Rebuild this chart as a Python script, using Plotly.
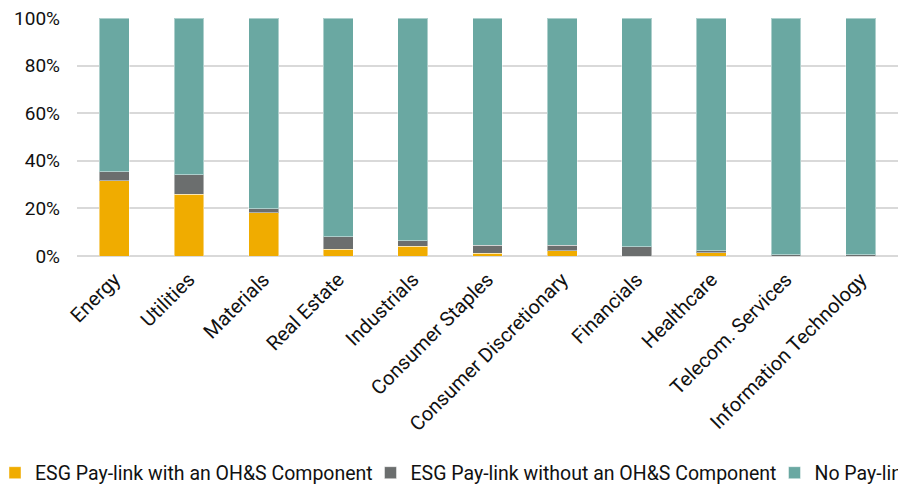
import plotly.graph_objects as go

sectors = [
    "Energy", "Utilities", "Materials", "Real Estate", "Industrials",
    "Consumer Staples", "Consumer Discretionary", "Financials",
    "Healthcare", "Telecom. Services", "Information Technology",
]
with_ohs = [31.6, 25.9, 18.1, 2.8, 4.0, 1.1, 2.3, 0.0, 1.3, 0.0, 0.0]
without_ohs = [3.8, 8.3, 1.7, 5.2, 2.5, 3.5, 2.3, 3.8, 1.0, 0.6, 0.6]
no_paylink = [64.6, 65.8, 80.2, 92.0, 93.5, 95.4, 95.4, 96.2, 97.7, 99.4, 99.4]

series = [
    ("ESG Pay-link with an OH&S Component", with_ohs, "#F0AC00", "legend"),
    ("ESG Pay-link without an OH&S Component", without_ohs, "#6B6E6E", "legend2"),
    ("No Pay-link", no_paylink, "#6AA8A2", "legend3"),
]

fig = go.Figure()
for name, vals, color, leg in series:
    fig.add_trace(go.Bar(
        x=sectors, y=vals, name=name, legend=leg,
        marker=dict(color=color, line=dict(color="rgba(255,255,255,0.45)", width=1)),
    ))

font = "Roboto, Arial, sans-serif"
W, H = 898, 485


def legend_at(left_px):
    # one legend box per series, laid out in a single row under the axis labels
    return dict(
        orientation="h",
        xref="container", yref="container",
        x=left_px / W, y=1 - 473 / H, xanchor="left", yanchor="middle",
        font=dict(family=font, size=19.5, color="#111"),
        itemwidth=30, indentation=-9,
        bgcolor="rgba(0,0,0,0)",
    )


fig.update_layout(
    barmode="stack",
    bargap=0.6,
    width=W, height=H,
    margin=dict(l=77, r=0, t=18, b=229),
    paper_bgcolor="white", plot_bgcolor="white",
    font=dict(family=font, size=19, color="#111"),
    showlegend=True,
    legend=legend_at(4),
    legend2=legend_at(379.5),
    legend3=legend_at(783.5),
    xaxis=dict(
        tickangle=-45, showgrid=False, showline=False, ticks="",
        tickfont=dict(size=20), ticklabelstandoff=7,
    ),
    yaxis=dict(
        range=[0, 100], dtick=20, ticksuffix="%",
        showgrid=True, gridcolor="#D9D9D9", gridwidth=2,
        zeroline=True, zerolinecolor="#D9D9D9", zerolinewidth=2,
        showline=False, ticks="", ticklabelstandoff=16,
        tickfont=dict(size=19),
    ),
)

fig.write_html("out.html")
